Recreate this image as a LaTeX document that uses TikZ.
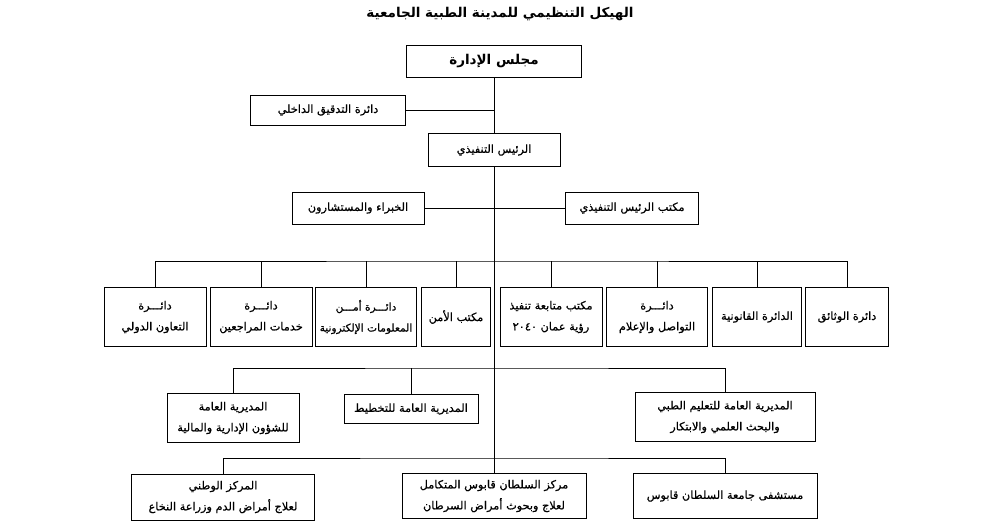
\documentclass[tikz,border=0pt]{standalone}
\usepackage{fontspec}
\newfontfamily\arabicfont[Script=Arabic]{DejaVu Sans}
\newfontfamily\arabicbox[Script=Arabic, FakeBold=0.6]{DejaVu Sans}
\TeXXeTstate=1
\newcommand{\ar}[1]{\beginR #1\endR}
\tikzset{
  unit/.style={draw, line width=1pt, fill=white, inner sep=2pt, align=center,
    font=\arabicbox\fontsize{11.3}{21}\selectfont},
  link/.style={line width=0.8pt}
}
\begin{document}
\begin{tikzpicture}[x=1pt, y=-1pt]
        \useasboundingbox (0, 0) rectangle (1000, 525);

        \node (title) at (500, 14) {\arabicfont\bfseries\fontsize{13.5}{16}\selectfont\ar{الهيكل التنظيمي للمدينة الطبية الجامعية}};

        \node[unit, minimum width=175pt, minimum height=32pt, font=\arabicfont\bfseries\fontsize{13.5}{16}\selectfont] (board) at (494, 61) {\ar{مجلس الإدارة}};
        \node[unit, minimum width=155pt, minimum height=30pt] (audit) at (328, 110) {\ar{دائرة التدقيق الداخلي}};
        \node[unit, minimum width=132pt, minimum height=33pt] (ceo) at (494, 150) {\ar{الرئيس التنفيذي}};
        \node[unit, minimum width=132pt, minimum height=32pt] (experts) at (358, 208) {\ar{الخبراء والمستشارون}};
        \node[unit, minimum width=133pt, minimum height=32pt] (office) at (632, 208) {\ar{مكتب الرئيس التنفيذي}};

        \node[unit, minimum width=102pt, minimum height=59pt] (d1) at (155, 317) {\ar{دائـــرة}\\\ar{التعاون الدولي}};
        \node[unit, minimum width=102pt, minimum height=59pt] (d2) at (261, 317) {\ar{دائـــرة}\\\ar{خدمات المراجعين}};
        \node[unit, minimum width=101pt, minimum height=59pt, inner sep=1pt, font=\arabicbox\fontsize{10.6}{21}\selectfont] (d3) at (366, 317) {\ar{دائـــرة أمـــن}\\\ar{المعلومات الإلكترونية}};
        \node[unit, minimum width=69pt, minimum height=59pt, inner sep=1pt] (d4) at (456, 317) {\ar{مكتب الأمن}};
        \node[unit, minimum width=102pt, minimum height=59pt] (d5) at (551, 317) {\ar{مكتب متابعة تنفيذ}\\\ar{رؤية عمان \beginL ٢٠٤٠\endL{}}};
        \node[unit, minimum width=101pt, minimum height=59pt] (d6) at (657, 317) {\ar{دائـــرة}\\\ar{التواصل والإعلام}};
        \node[unit, minimum width=89pt, minimum height=59pt] (d7) at (757, 317) {\ar{الدائرة القانونية}};
        \node[unit, minimum width=83pt, minimum height=59pt] (d8) at (847, 317) {\ar{دائرة الوثائق}};

        \node[unit, minimum width=132pt, minimum height=49pt] (g1) at (233, 418) {\ar{المديرية العامة}\\\ar{للشؤون الإدارية والمالية}};
        \node[unit, minimum width=134pt, minimum height=29pt] (g2) at (411, 409) {\ar{المديرية العامة للتخطيط}};
        \node[unit, minimum width=180pt, minimum height=49pt] (g3) at (725, 417) {\ar{المديرية العامة للتعليم الطبي}\\\ar{والبحث العلمي والابتكار}};

        \node[unit, minimum width=183pt, minimum height=46pt] (h1) at (223, 497) {\ar{المركز الوطني}\\\ar{لعلاج أمراض الدم وزراعة النخاع}};
        \node[unit, minimum width=184pt, minimum height=45pt] (h2) at (494, 496) {\ar{مركز السلطان قابوس المتكامل}\\\ar{لعلاج وبحوث أمراض السرطان}};
        \node[unit, minimum width=184pt, minimum height=45pt] (h3) at (725, 496) {\ar{مستشفى جامعة السلطان قابوس}};

        \coordinate (bus1) at (494, 261);
        \coordinate (bus2) at (494, 368);
        \coordinate (bus3) at (494, 458);

        \draw[link] (board) -- (ceo);
        \draw[link] (ceo) -- (h2);
        \draw[link] (audit.east) -- (audit.east -| board.south);
        \draw[link] (experts) -- (office);
        \draw[link] (d1.north) |- (bus1) -| (d8.north);
        \foreach \d in {d2, d3, d4, d5, d6, d7}
            \draw[link] (\d.north) -- (\d.north |- bus1);
        \draw[link] (g1.north) |- (bus2) -| (g3.north);
        \draw[link] (g2.north) -- (g2.north |- bus2);
        \draw[link] (h1.north) |- (bus3) -| (h3.north);
    \end{tikzpicture}
\end{document}
